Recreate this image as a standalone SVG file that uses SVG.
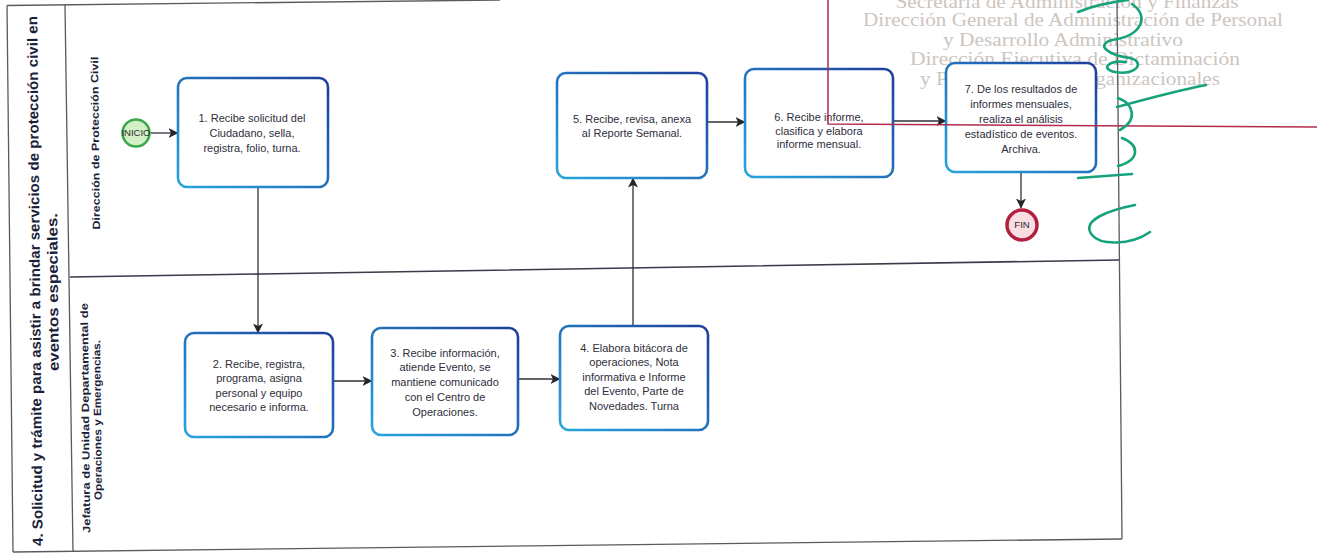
<svg xmlns="http://www.w3.org/2000/svg" width="1317" height="556" viewBox="0 0 1317 556">
<style>
.frame{stroke:#5a5a62;stroke-width:1.3;fill:none}
.lane{stroke:#3a3a48;stroke-width:1.6;fill:none}
.title{font-family:"Liberation Sans",Arial,sans-serif;font-weight:bold;font-size:14.5px;fill:#1c1f3a}
.lanelbl{font-family:"Liberation Sans",Arial,sans-serif;font-weight:bold;font-size:10.5px;fill:#1c1f3a}
.box{fill:#ffffff;stroke:url(#bx);stroke-width:2.6}
.bt{font-family:"Liberation Sans",Arial,sans-serif;font-size:11px;fill:#2e2e3c;text-anchor:middle}
.ev{font-family:"Liberation Sans",Arial,sans-serif;font-size:9.5px;fill:#2a2a2a;text-anchor:middle}
.conn{stroke:#2f2f36;stroke-width:1.3;fill:none;marker-end:url(#ah)}
.stamp{font-family:"Liberation Serif","Times New Roman",serif;font-size:18px;fill:#cdc6bf;text-anchor:middle}
.sig{stroke:#16a37c;stroke-width:2.6;fill:none;stroke-linecap:round;stroke-linejoin:round}
.red{stroke:#b42a4c;stroke-width:1.5;fill:none}
</style>
<defs>
<linearGradient id="bx" x1="0" y1="1" x2="1" y2="0">
<stop offset="0" stop-color="#27a6dc"/>
<stop offset="1" stop-color="#1d3f9c"/>
</linearGradient>
<marker id="ah" markerWidth="10" markerHeight="10" refX="9.5" refY="5" orient="auto" markerUnits="userSpaceOnUse">
<path d="M0,0 L10,5 L0,10 L2.5,5 z" fill="#25252b"/>
</marker>
</defs>
<rect width="1317" height="556" fill="#ffffff"/>

<g id="stamp">
<text class="stamp" x="1067" y="8" textLength="343" lengthAdjust="spacingAndGlyphs">Secretaría de Administración y Finanzas</text>
<text class="stamp" x="1073" y="26" textLength="420" lengthAdjust="spacingAndGlyphs">Dirección General de Administración de Personal</text>
<text class="stamp" x="1063" y="46" textLength="240" lengthAdjust="spacingAndGlyphs">y Desarrollo Administrativo</text>
<text class="stamp" x="1075" y="65" textLength="330" lengthAdjust="spacingAndGlyphs">Dirección Ejecutiva de Dictaminación</text>
<text class="stamp" x="1070" y="85" textLength="300" lengthAdjust="spacingAndGlyphs">y Procedimientos Organizacionales</text>
</g>

<g id="pool">
<path class="frame" d="M7,5.5 L500,0"/>
<path class="frame" d="M7,5.5 L13,552"/>
<path class="frame" d="M13,552 L1122,539"/>
<path class="frame" d="M1117,0 L1122,539"/>
<path class="frame" d="M65,5 L73,552"/>
<path class="lane" d="M70,277 L260,274 L1119,260"/>
<text class="title" transform="translate(40,281) rotate(-90.6)" text-anchor="middle" textLength="530" lengthAdjust="spacingAndGlyphs">4. Solicitud y trámite para asistir a brindar servicios de protección civil en</text>
<text class="title" transform="translate(58,292) rotate(-90.6)" text-anchor="middle" textLength="158" lengthAdjust="spacingAndGlyphs">eventos especiales.</text>
</g>

<g id="lane1">
<text class="lanelbl" transform="translate(99,143) rotate(-90.6)" text-anchor="middle" textLength="173" lengthAdjust="spacingAndGlyphs">Dirección de Protección Civil</text>
</g>
<g id="lane2">
<text class="lanelbl" transform="translate(89,418) rotate(-90.6)" text-anchor="middle" textLength="230" lengthAdjust="spacingAndGlyphs">Jefatura de Unidad Departamental de</text>
<text class="lanelbl" transform="translate(101,420) rotate(-90.6)" text-anchor="middle" textLength="160" lengthAdjust="spacingAndGlyphs">Operaciones y Emergencias.</text>
</g>

<g id="connectors">
<path class="conn" d="M151,133 L178,133"/>
<path class="conn" d="M258,187 L258,333"/>
<path class="conn" d="M333,381 L372,381"/>
<path class="conn" d="M518,379 L560,379"/>
<path class="conn" d="M633,326 L633,178"/>
<path class="conn" d="M707,122 L745,122"/>
<path class="conn" d="M893,121 L946,121"/>
<path class="conn" d="M1021,172 L1021,208"/>
</g>

<g id="inicio">
<circle cx="136" cy="133" r="13.5" fill="#d3efc6" stroke="#3aa84a" stroke-width="2.5"/>
<text class="ev" x="136" y="136.4">INICIO</text>
</g>

<g id="n1">
<rect class="box" x="178" y="78" width="150" height="109" rx="9"/>
<text class="bt" x="252" y="121.5">1. Recibe solicitud del</text>
<text class="bt" x="252" y="136.5">Ciudadano, sella,</text>
<text class="bt" x="252" y="151.5">registra, folio, turna.</text>
</g>

<g id="n2">
<rect class="box" x="185" y="333" width="148" height="104" rx="9"/>
<text class="bt" x="259" y="367.5">2. Recibe, registra,</text>
<text class="bt" x="259" y="382">programa, asigna</text>
<text class="bt" x="259" y="396.5">personal y equipo</text>
<text class="bt" x="259" y="411">necesario e informa.</text>
</g>

<g id="n3">
<rect class="box" x="372" y="328" width="146" height="107" rx="9"/>
<text class="bt" x="445" y="356.5">3. Recibe información,</text>
<text class="bt" x="445" y="371.3">atiende Evento, se</text>
<text class="bt" x="445" y="386">mantiene comunicado</text>
<text class="bt" x="445" y="400.8">con el Centro de</text>
<text class="bt" x="445" y="415.5">Operaciones.</text>
</g>

<g id="n4">
<rect class="box" x="560" y="326" width="148" height="104" rx="9"/>
<text class="bt" x="634" y="351.5">4. Elabora bitácora de</text>
<text class="bt" x="634" y="366">operaciones, Nota</text>
<text class="bt" x="634" y="380.5">informativa e Informe</text>
<text class="bt" x="634" y="395">del Evento, Parte de</text>
<text class="bt" x="634" y="409.5">Novedades. Turna</text>
</g>

<g id="n5">
<rect class="box" x="557" y="73" width="150" height="105" rx="9"/>
<text class="bt" x="632" y="122.5">5. Recibe, revisa, anexa</text>
<text class="bt" x="632" y="137">al Reporte Semanal.</text>
</g>

<g id="n6">
<rect class="box" x="745" y="69" width="148" height="108" rx="9"/>
<text class="bt" x="819" y="120.5">6. Recibe informe,</text>
<text class="bt" x="819" y="134.5">clasifica y elabora</text>
<text class="bt" x="819" y="148">informe mensual.</text>
</g>

<g id="n7">
<rect class="box" x="946" y="63" width="150" height="109" rx="9"/>
<text class="bt" x="1021" y="92.5">7. De los resultados de</text>
<text class="bt" x="1021" y="107.5">informes mensuales,</text>
<text class="bt" x="1021" y="122.5">realiza el análisis</text>
<text class="bt" x="1021" y="137.5">estadístico de eventos.</text>
<text class="bt" x="1021" y="152.5">Archiva.</text>
</g>

<g id="fin">
<circle cx="1022" cy="225" r="15" fill="#f8dde3" stroke="#b3203f" stroke-width="3.5"/>
<text class="ev" x="1022" y="228.4">FIN</text>
</g>

<g id="stamp-lines">
<path class="red" d="M828,0 L828,124 L1317,127"/>
</g>

<g id="signature">
<path class="sig" d="M1078,12 C1095,5 1112,2 1128,0"/>
<path class="sig" d="M1132,4 C1150,16 1142,36 1112,40 C1095,45 1108,55 1130,58 C1146,62 1136,76 1115,72 C1100,69 1108,60 1126,62"/>
<path class="sig" d="M1117,107 C1150,98 1180,90 1206,85"/>
<path class="sig" d="M1118,98 C1134,104 1138,120 1120,130"/>
<path class="sig" d="M1122,138 C1140,145 1140,160 1118,166"/>
<path class="sig" d="M1078,178 L1132,174"/>
<path class="sig" d="M1135,205 C1110,210 1080,220 1092,235 C1100,245 1130,246 1150,232"/>
</g>
</svg>
